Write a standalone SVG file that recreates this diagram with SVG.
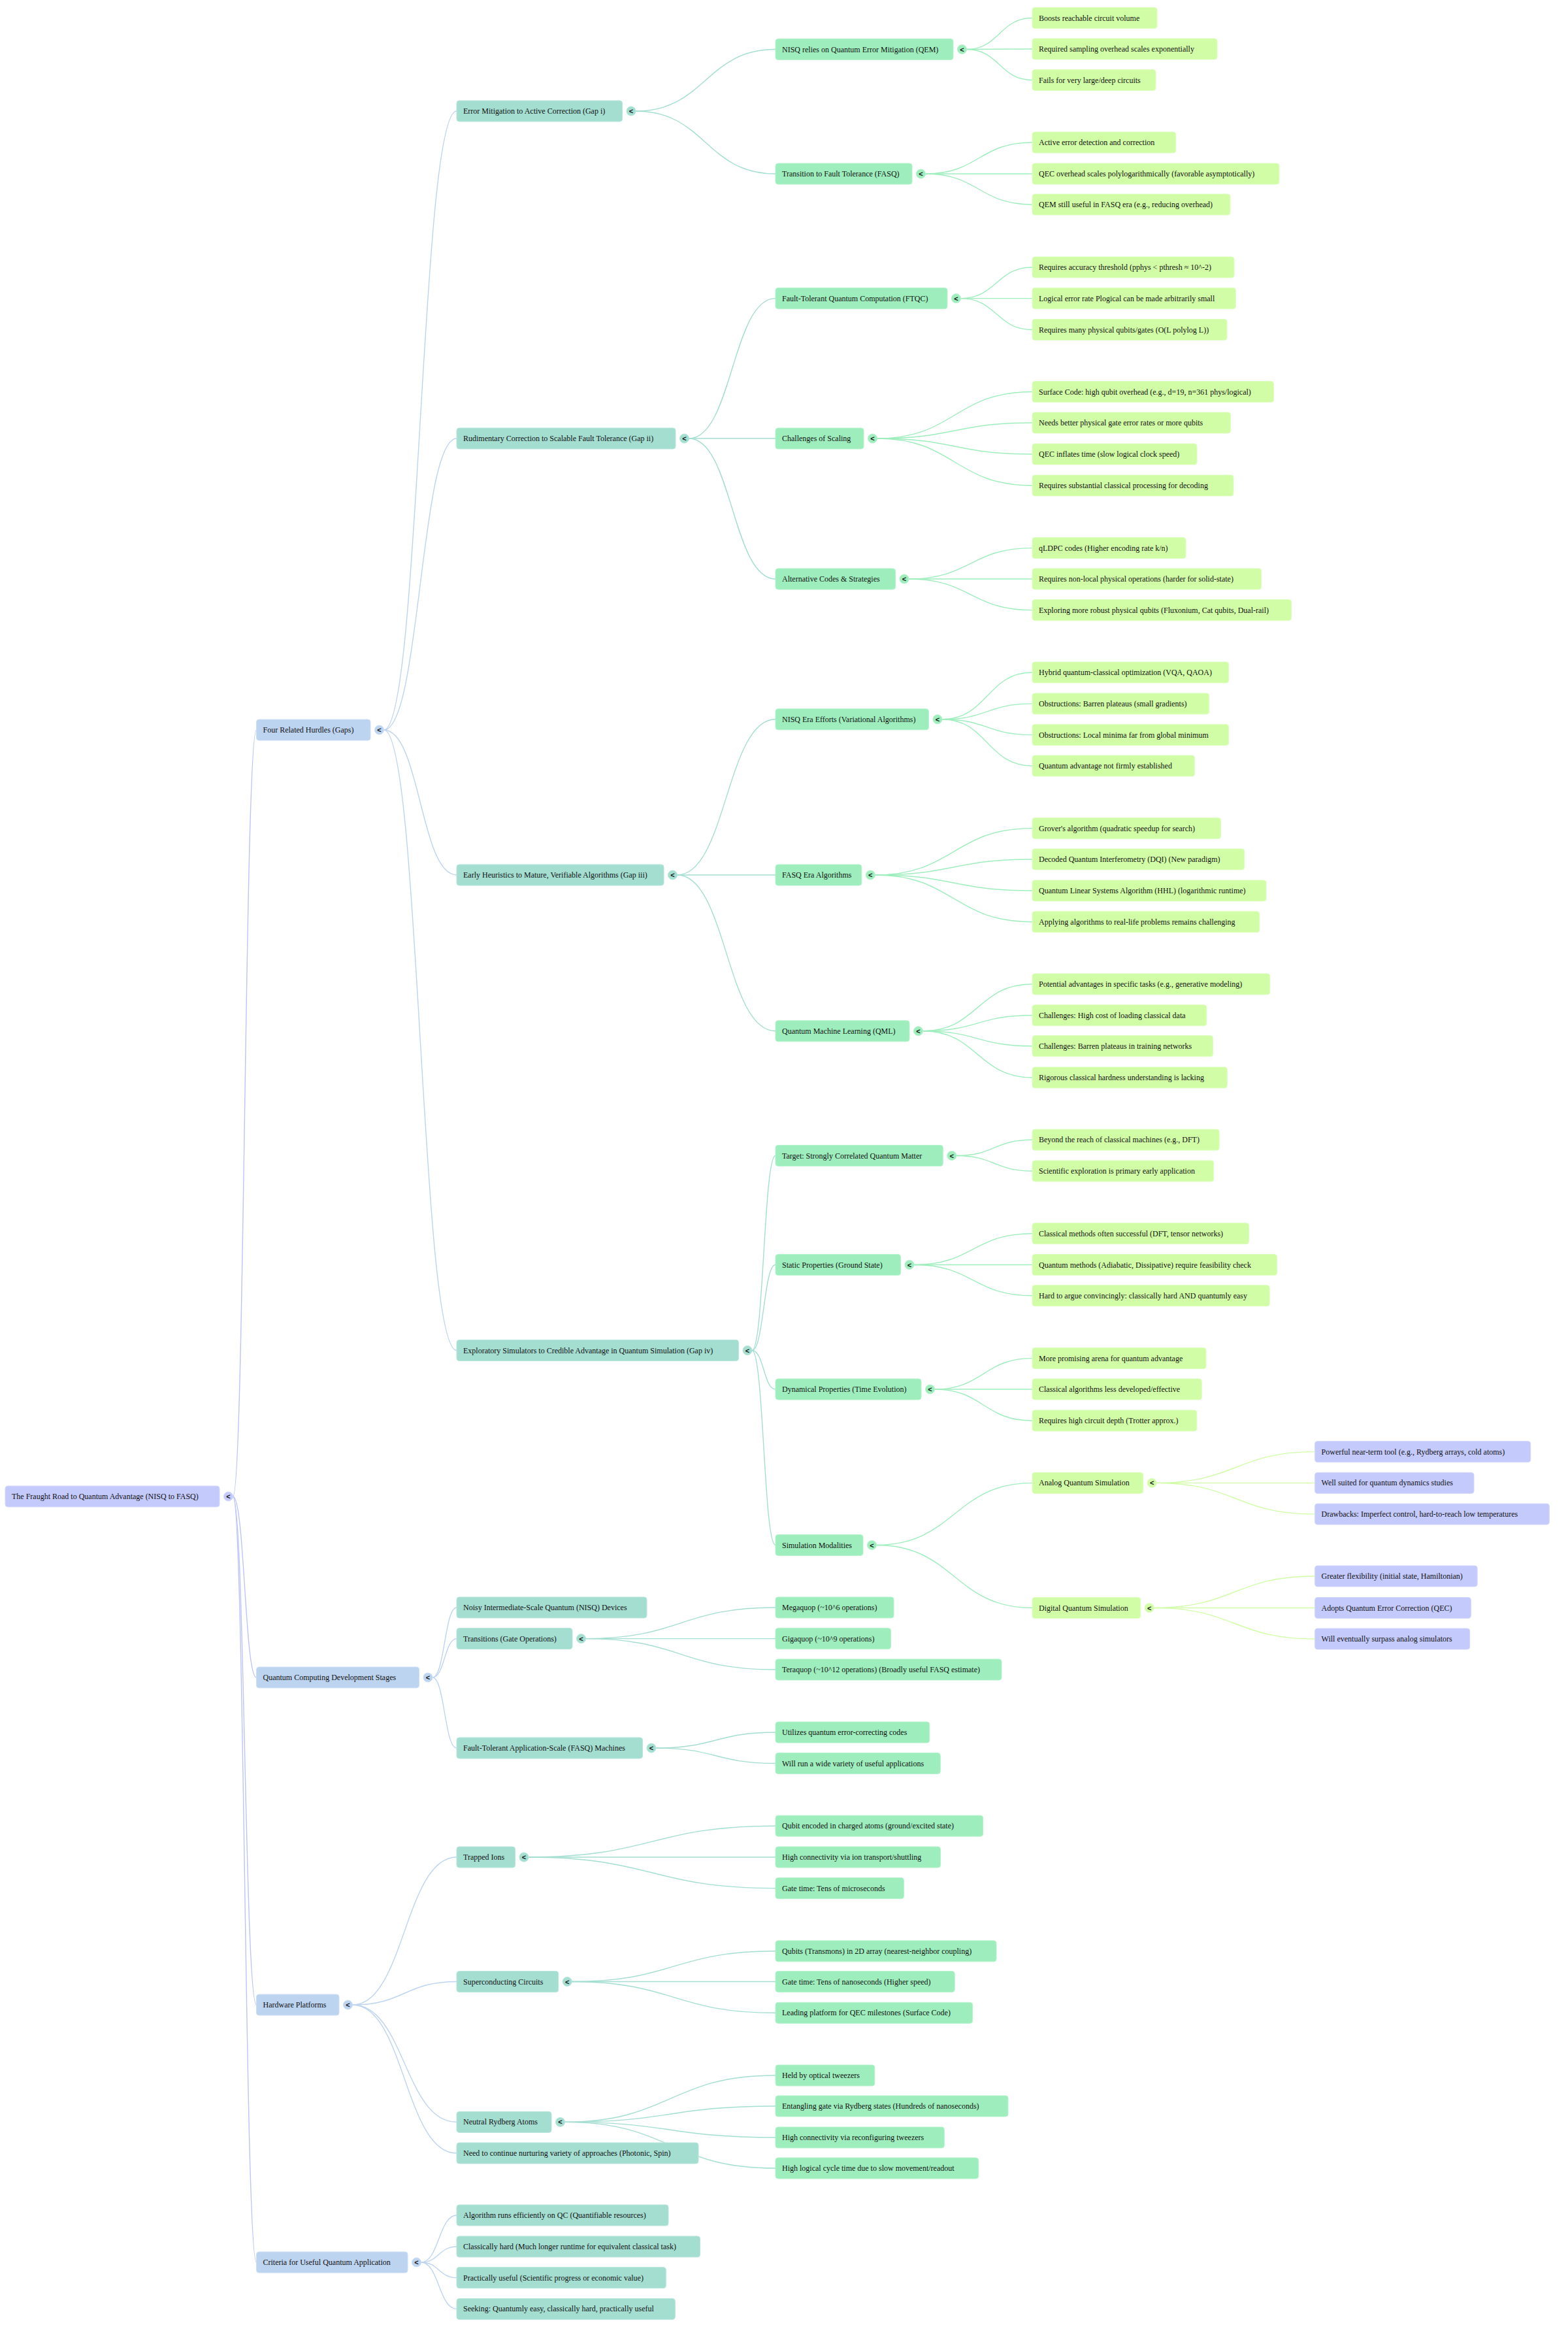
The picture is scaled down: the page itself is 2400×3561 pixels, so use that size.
<svg xmlns="http://www.w3.org/2000/svg" width="2400" height="3561" viewBox="0 0 2400 3561">
<style>
text{font-family:"Liberation Serif","Times New Roman",serif;font-size:12px;fill:#111}
rect{rx:4;ry:4;height:32px;stroke-width:1}
.l0{fill:#c4cafc;stroke:#d3d8fd}
.l1{fill:#bdd4f0;stroke:#cddff4}
.l2{fill:#a4ded1;stroke:#b8e6db}
.l3{fill:#9eeebd;stroke:#b4f3cc}
.l4{fill:#d1fda7;stroke:#ddfebf}
.l5{fill:#c4cafc;stroke:#d3d8fd}
circle{r:7}
.tg{font-family:"Liberation Sans",Arial,sans-serif;font-size:11px;font-weight:bold;text-anchor:middle}
#connectors path{fill:none;stroke-width:1.4}
.e0{stroke:#bcc4f8}.e1{stroke:#bdd4f0}.e2{stroke:#a4ded1}.e3{stroke:#9eeebd}.e4{stroke:#d1fda7}
</style>
<g id="connectors">
<path class="e0" d="M356.5,2290 C374.5,2290 374.5,1117 392.5,1117"/>
<path class="e0" d="M356.5,2290 C374.5,2290 374.5,2567 392.5,2567"/>
<path class="e0" d="M356.5,2290 C374.5,2290 374.5,3068 392.5,3068"/>
<path class="e0" d="M356.5,2290 C374.5,2290 374.5,3462 392.5,3462"/>
<path class="e1" d="M587.5,1117 C643.25,1117 643.25,170 699,170"/>
<path class="e1" d="M587.5,1117 C643.25,1117 643.25,671 699,671"/>
<path class="e1" d="M587.5,1117 C643.25,1117 643.25,1339 699,1339"/>
<path class="e1" d="M587.5,1117 C643.25,1117 643.25,2066.5 699,2066.5"/>
<path class="e1" d="M662,2567 C680.5,2567 680.5,2460 699,2460"/>
<path class="e1" d="M662,2567 C680.5,2567 680.5,2507.6 699,2507.6"/>
<path class="e1" d="M662,2567 C680.5,2567 680.5,2675 699,2675"/>
<path class="e1" d="M539.5,3068 C619.25,3068 619.25,2842 699,2842"/>
<path class="e1" d="M539.5,3068 C619.25,3068 619.25,3032.5 699,3032.5"/>
<path class="e1" d="M539.5,3068 C619.25,3068 619.25,3247.4 699,3247.4"/>
<path class="e1" d="M539.5,3068 C619.25,3068 619.25,3295 699,3295"/>
<path class="e1" d="M644.5,3462 C671.75,3462 671.75,3390 699,3390"/>
<path class="e1" d="M644.5,3462 C671.75,3462 671.75,3438 699,3438"/>
<path class="e1" d="M644.5,3462 C671.75,3462 671.75,3485.6 699,3485.6"/>
<path class="e1" d="M644.5,3462 C671.75,3462 671.75,3533.4 699,3533.4"/>
<path class="e2" d="M973,170 C1080,170 1080,75.5 1187,75.5"/>
<path class="e2" d="M973,170 C1080,170 1080,266 1187,266"/>
<path class="e2" d="M1054.5,671 C1120.75,671 1120.75,456.6 1187,456.6"/>
<path class="e2" d="M1054.5,671 C1120.75,671 1120.75,671 1187,671"/>
<path class="e2" d="M1054.5,671 C1120.75,671 1120.75,886 1187,886"/>
<path class="e2" d="M1036.5,1339 C1111.75,1339 1111.75,1100.8 1187,1100.8"/>
<path class="e2" d="M1036.5,1339 C1111.75,1339 1111.75,1339 1187,1339"/>
<path class="e2" d="M1036.5,1339 C1111.75,1339 1111.75,1577.8 1187,1577.8"/>
<path class="e2" d="M1151,2066.5 C1169,2066.5 1169,1768.5 1187,1768.5"/>
<path class="e2" d="M1151,2066.5 C1169,2066.5 1169,1935.5 1187,1935.5"/>
<path class="e2" d="M1151,2066.5 C1169,2066.5 1169,2126 1187,2126"/>
<path class="e2" d="M1151,2066.5 C1169,2066.5 1169,2364.5 1187,2364.5"/>
<path class="e2" d="M896.5,2507.6 C1041.75,2507.6 1041.75,2460 1187,2460"/>
<path class="e2" d="M896.5,2507.6 C1041.75,2507.6 1041.75,2507.6 1187,2507.6"/>
<path class="e2" d="M896.5,2507.6 C1041.75,2507.6 1041.75,2555 1187,2555"/>
<path class="e2" d="M1004,2675 C1095.5,2675 1095.5,2651 1187,2651"/>
<path class="e2" d="M1004,2675 C1095.5,2675 1095.5,2698.5 1187,2698.5"/>
<path class="e2" d="M809,2842 C998,2842 998,2794.2 1187,2794.2"/>
<path class="e2" d="M809,2842 C998,2842 998,2842 1187,2842"/>
<path class="e2" d="M809,2842 C998,2842 998,2889.6 1187,2889.6"/>
<path class="e2" d="M875.2,3032.5 C1031.1,3032.5 1031.1,2985.8 1187,2985.8"/>
<path class="e2" d="M875.2,3032.5 C1031.1,3032.5 1031.1,3032.5 1187,3032.5"/>
<path class="e2" d="M875.2,3032.5 C1031.1,3032.5 1031.1,3080.3 1187,3080.3"/>
<path class="e2" d="M864.5,3247.4 C1025.75,3247.4 1025.75,3176 1187,3176"/>
<path class="e2" d="M864.5,3247.4 C1025.75,3247.4 1025.75,3223 1187,3223"/>
<path class="e2" d="M864.5,3247.4 C1025.75,3247.4 1025.75,3271 1187,3271"/>
<path class="e2" d="M864.5,3247.4 C1025.75,3247.4 1025.75,3318 1187,3318"/>
<path class="e3" d="M1479.5,75.5 C1529.75,75.5 1529.75,27.5 1580,27.5"/>
<path class="e3" d="M1479.5,75.5 C1529.75,75.5 1529.75,75 1580,75"/>
<path class="e3" d="M1479.5,75.5 C1529.75,75.5 1529.75,122.5 1580,122.5"/>
<path class="e3" d="M1416.5,266 C1498.25,266 1498.25,218 1580,218"/>
<path class="e3" d="M1416.5,266 C1498.25,266 1498.25,266 1580,266"/>
<path class="e3" d="M1416.5,266 C1498.25,266 1498.25,313 1580,313"/>
<path class="e3" d="M1470.5,456.6 C1525.25,456.6 1525.25,409 1580,409"/>
<path class="e3" d="M1470.5,456.6 C1525.25,456.6 1525.25,456.6 1580,456.6"/>
<path class="e3" d="M1470.5,456.6 C1525.25,456.6 1525.25,504.5 1580,504.5"/>
<path class="e3" d="M1342.5,671 C1461.25,671 1461.25,599.5 1580,599.5"/>
<path class="e3" d="M1342.5,671 C1461.25,671 1461.25,647 1580,647"/>
<path class="e3" d="M1342.5,671 C1461.25,671 1461.25,695 1580,695"/>
<path class="e3" d="M1342.5,671 C1461.25,671 1461.25,743 1580,743"/>
<path class="e3" d="M1391,886 C1485.5,886 1485.5,838.6 1580,838.6"/>
<path class="e3" d="M1391,886 C1485.5,886 1485.5,886 1580,886"/>
<path class="e3" d="M1391,886 C1485.5,886 1485.5,933.6 1580,933.6"/>
<path class="e3" d="M1442,1100.8 C1511,1100.8 1511,1029 1580,1029"/>
<path class="e3" d="M1442,1100.8 C1511,1100.8 1511,1076.9 1580,1076.9"/>
<path class="e3" d="M1442,1100.8 C1511,1100.8 1511,1124.6 1580,1124.6"/>
<path class="e3" d="M1442,1100.8 C1511,1100.8 1511,1172 1580,1172"/>
<path class="e3" d="M1339.3,1339 C1459.65,1339 1459.65,1267.6 1580,1267.6"/>
<path class="e3" d="M1339.3,1339 C1459.65,1339 1459.65,1315 1580,1315"/>
<path class="e3" d="M1339.3,1339 C1459.65,1339 1459.65,1363 1580,1363"/>
<path class="e3" d="M1339.3,1339 C1459.65,1339 1459.65,1410.8 1580,1410.8"/>
<path class="e3" d="M1412.5,1577.8 C1496.25,1577.8 1496.25,1506 1580,1506"/>
<path class="e3" d="M1412.5,1577.8 C1496.25,1577.8 1496.25,1553.8 1580,1553.8"/>
<path class="e3" d="M1412.5,1577.8 C1496.25,1577.8 1496.25,1600.8 1580,1600.8"/>
<path class="e3" d="M1412.5,1577.8 C1496.25,1577.8 1496.25,1649 1580,1649"/>
<path class="e3" d="M1463.8,1768.5 C1521.9,1768.5 1521.9,1744.2 1580,1744.2"/>
<path class="e3" d="M1463.8,1768.5 C1521.9,1768.5 1521.9,1792 1580,1792"/>
<path class="e3" d="M1399,1935.5 C1489.5,1935.5 1489.5,1887.7 1580,1887.7"/>
<path class="e3" d="M1399,1935.5 C1489.5,1935.5 1489.5,1935.5 1580,1935.5"/>
<path class="e3" d="M1399,1935.5 C1489.5,1935.5 1489.5,1982.8 1580,1982.8"/>
<path class="e3" d="M1430.5,2126 C1505.25,2126 1505.25,2078.6 1580,2078.6"/>
<path class="e3" d="M1430.5,2126 C1505.25,2126 1505.25,2126 1580,2126"/>
<path class="e3" d="M1430.5,2126 C1505.25,2126 1505.25,2174 1580,2174"/>
<path class="e3" d="M1341.5,2364.5 C1460.75,2364.5 1460.75,2269.4 1580,2269.4"/>
<path class="e3" d="M1341.5,2364.5 C1460.75,2364.5 1460.75,2460.5 1580,2460.5"/>
<path class="e4" d="M1770.2,2269.4 C1891.4,2269.4 1891.4,2221.6 2012.6,2221.6"/>
<path class="e4" d="M1770.2,2269.4 C1891.4,2269.4 1891.4,2269.4 2012.6,2269.4"/>
<path class="e4" d="M1770.2,2269.4 C1891.4,2269.4 1891.4,2317.1 2012.6,2317.1"/>
<path class="e4" d="M1766.2,2460.5 C1889.4,2460.5 1889.4,2412 2012.6,2412"/>
<path class="e4" d="M1766.2,2460.5 C1889.4,2460.5 1889.4,2460.5 2012.6,2460.5"/>
<path class="e4" d="M1766.2,2460.5 C1889.4,2460.5 1889.4,2508 2012.6,2508"/>
</g>

<g id="n-root"><rect class="l0" x="8" y="2274" width="328"/><text x="18" y="2294">The Fraught Road to Quantum Advantage (NISQ to FASQ)</text><circle class="l0" cx="349.5" cy="2290"/><text class="tg" x="349.5" y="2294">&lt;</text></g>

<g id="n-hurdles"><rect class="l1" x="392.5" y="1101" width="174.5"/><text x="402.5" y="1121">Four Related Hurdles (Gaps)</text><circle class="l1" cx="580.5" cy="1117"/><text class="tg" x="580.5" y="1121">&lt;</text></g>
<g id="n-stages"><rect class="l1" x="392.5" y="2551" width="249"/><text x="402.5" y="2571">Quantum Computing Development Stages</text><circle class="l1" cx="655" cy="2567"/><text class="tg" x="655" y="2571">&lt;</text></g>
<g id="n-hardware"><rect class="l1" x="392.5" y="3052" width="126.5"/><text x="402.5" y="3072">Hardware Platforms</text><circle class="l1" cx="532.5" cy="3068"/><text class="tg" x="532.5" y="3072">&lt;</text></g>
<g id="n-criteria"><rect class="l1" x="392.5" y="3446" width="231.5"/><text x="402.5" y="3466">Criteria for Useful Quantum Application</text><circle class="l1" cx="637.5" cy="3462"/><text class="tg" x="637.5" y="3466">&lt;</text></g>

<g id="n-gap1"><rect class="l2" x="699" y="154" width="253.5"/><text x="709" y="174">Error Mitigation to Active Correction (Gap i)</text><circle class="l2" cx="966" cy="170"/><text class="tg" x="966" y="174">&lt;</text></g>
<g id="n-gap2"><rect class="l2" x="699" y="655" width="335"/><text x="709" y="675">Rudimentary Correction to Scalable Fault Tolerance (Gap ii)</text><circle class="l2" cx="1047.5" cy="671"/><text class="tg" x="1047.5" y="675">&lt;</text></g>
<g id="n-gap3"><rect class="l2" x="699" y="1323" width="317"/><text x="709" y="1343">Early Heuristics to Mature, Verifiable Algorithms (Gap iii)</text><circle class="l2" cx="1029.5" cy="1339"/><text class="tg" x="1029.5" y="1343">&lt;</text></g>
<g id="n-gap4"><rect class="l2" x="699" y="2050.5" width="431.5"/><text x="709" y="2070.5">Exploratory Simulators to Credible Advantage in Quantum Simulation (Gap iv)</text><circle class="l2" cx="1144" cy="2066.5"/><text class="tg" x="1144" y="2070.5">&lt;</text></g>
<g id="n-nisqdev"><rect class="l2" x="699" y="2444" width="291"/><text x="709" y="2464">Noisy Intermediate-Scale Quantum (NISQ) Devices</text></g>
<g id="n-transitions"><rect class="l2" x="699" y="2491.6" width="177"/><text x="709" y="2511.6">Transitions (Gate Operations)</text><circle class="l2" cx="889.5" cy="2507.6"/><text class="tg" x="889.5" y="2511.6">&lt;</text></g>
<g id="n-fasqmach"><rect class="l2" x="699" y="2659" width="284.5"/><text x="709" y="2679">Fault-Tolerant Application-Scale (FASQ) Machines</text><circle class="l2" cx="997" cy="2675"/><text class="tg" x="997" y="2679">&lt;</text></g>
<g id="n-ions"><rect class="l2" x="699" y="2826" width="89.5"/><text x="709" y="2846">Trapped Ions</text><circle class="l2" cx="802" cy="2842"/><text class="tg" x="802" y="2846">&lt;</text></g>
<g id="n-sc"><rect class="l2" x="699" y="3016.5" width="155.7"/><text x="709" y="3036.5">Superconducting Circuits</text><circle class="l2" cx="868.2" cy="3032.5"/><text class="tg" x="868.2" y="3036.5">&lt;</text></g>
<g id="n-rydberg"><rect class="l2" x="699" y="3231.4" width="145"/><text x="709" y="3251.4">Neutral Rydberg Atoms</text><circle class="l2" cx="857.5" cy="3247.4"/><text class="tg" x="857.5" y="3251.4">&lt;</text></g>
<g id="n-nurture"><rect class="l2" x="699" y="3279" width="370"/><text x="709" y="3299">Need to continue nurturing variety of approaches (Photonic, Spin)</text></g>
<g id="n-crit1"><rect class="l2" x="699" y="3374" width="324"/><text x="709" y="3394">Algorithm runs efficiently on QC (Quantifiable resources)</text></g>
<g id="n-crit2"><rect class="l2" x="699" y="3422" width="372.5"/><text x="709" y="3442">Classically hard (Much longer runtime for equivalent classical task)</text></g>
<g id="n-crit3"><rect class="l2" x="699" y="3469.6" width="320.3"/><text x="709" y="3489.6">Practically useful (Scientific progress or economic value)</text></g>
<g id="n-crit4"><rect class="l2" x="699" y="3517.4" width="334.3"/><text x="709" y="3537.4">Seeking: Quantumly easy, classically hard, practically useful</text></g>

<g id="n-qem"><rect class="l3" x="1187" y="59.5" width="272"/><text x="1197" y="79.5">NISQ relies on Quantum Error Mitigation (QEM)</text><circle class="l3" cx="1472.5" cy="75.5"/><text class="tg" x="1472.5" y="79.5">&lt;</text></g>
<g id="n-transft"><rect class="l3" x="1187" y="250" width="209"/><text x="1197" y="270">Transition to Fault Tolerance (FASQ)</text><circle class="l3" cx="1409.5" cy="266"/><text class="tg" x="1409.5" y="270">&lt;</text></g>
<g id="n-ftqc"><rect class="l3" x="1187" y="440.6" width="263"/><text x="1197" y="460.6">Fault-Tolerant Quantum Computation (FTQC)</text><circle class="l3" cx="1463.5" cy="456.6"/><text class="tg" x="1463.5" y="460.6">&lt;</text></g>
<g id="n-scaling"><rect class="l3" x="1187" y="655" width="135"/><text x="1197" y="675">Challenges of Scaling</text><circle class="l3" cx="1335.5" cy="671"/><text class="tg" x="1335.5" y="675">&lt;</text></g>
<g id="n-altcodes"><rect class="l3" x="1187" y="870" width="183.5"/><text x="1197" y="890">Alternative Codes &amp; Strategies</text><circle class="l3" cx="1384" cy="886"/><text class="tg" x="1384" y="890">&lt;</text></g>
<g id="n-nisqera"><rect class="l3" x="1187" y="1084.8" width="234.5"/><text x="1197" y="1104.8">NISQ Era Efforts (Variational Algorithms)</text><circle class="l3" cx="1435" cy="1100.8"/><text class="tg" x="1435" y="1104.8">&lt;</text></g>
<g id="n-fasqera"><rect class="l3" x="1187" y="1323" width="131.8"/><text x="1197" y="1343">FASQ Era Algorithms</text><circle class="l3" cx="1332.3" cy="1339"/><text class="tg" x="1332.3" y="1343">&lt;</text></g>
<g id="n-qml"><rect class="l3" x="1187" y="1561.8" width="205"/><text x="1197" y="1581.8">Quantum Machine Learning (QML)</text><circle class="l3" cx="1405.5" cy="1577.8"/><text class="tg" x="1405.5" y="1581.8">&lt;</text></g>
<g id="n-target"><rect class="l3" x="1187" y="1752.5" width="256.3"/><text x="1197" y="1772.5">Target: Strongly Correlated Quantum Matter</text><circle class="l3" cx="1456.8" cy="1768.5"/><text class="tg" x="1456.8" y="1772.5">&lt;</text></g>
<g id="n-static"><rect class="l3" x="1187" y="1919.5" width="191.5"/><text x="1197" y="1939.5">Static Properties (Ground State)</text><circle class="l3" cx="1392" cy="1935.5"/><text class="tg" x="1392" y="1939.5">&lt;</text></g>
<g id="n-dynamic"><rect class="l3" x="1187" y="2110" width="223"/><text x="1197" y="2130">Dynamical Properties (Time Evolution)</text><circle class="l3" cx="1423.5" cy="2126"/><text class="tg" x="1423.5" y="2130">&lt;</text></g>
<g id="n-simmod"><rect class="l3" x="1187" y="2348.5" width="134"/><text x="1197" y="2368.5">Simulation Modalities</text><circle class="l3" cx="1334.5" cy="2364.5"/><text class="tg" x="1334.5" y="2368.5">&lt;</text></g>
<g id="n-mega"><rect class="l3" x="1187" y="2444" width="181"/><text x="1197" y="2464">Megaquop (~10^6 operations)</text></g>
<g id="n-giga"><rect class="l3" x="1187" y="2491.6" width="176.5"/><text x="1197" y="2511.6">Gigaquop (~10^9 operations)</text></g>
<g id="n-tera"><rect class="l3" x="1187" y="2539" width="346"/><text x="1197" y="2559">Teraquop (~10^12 operations) (Broadly useful FASQ estimate)</text></g>
<g id="n-utilizes"><rect class="l3" x="1187" y="2635" width="235.7"/><text x="1197" y="2655">Utilizes quantum error-correcting codes</text></g>
<g id="n-willrun"><rect class="l3" x="1187" y="2682.5" width="252.3"/><text x="1197" y="2702.5">Will run a wide variety of useful applications</text></g>
<g id="n-ion1"><rect class="l3" x="1187" y="2778.2" width="317.6"/><text x="1197" y="2798.2">Qubit encoded in charged atoms (ground/excited state)</text></g>
<g id="n-ion2"><rect class="l3" x="1187" y="2826" width="252.5"/><text x="1197" y="2846">High connectivity via ion transport/shuttling</text></g>
<g id="n-ion3"><rect class="l3" x="1187" y="2873.6" width="196.4"/><text x="1197" y="2893.6">Gate time: Tens of microseconds</text></g>
<g id="n-sc1"><rect class="l3" x="1187" y="2969.8" width="338"/><text x="1197" y="2989.8">Qubits (Transmons) in 2D array (nearest-neighbor coupling)</text></g>
<g id="n-sc2"><rect class="l3" x="1187" y="3016.5" width="274.2"/><text x="1197" y="3036.5">Gate time: Tens of nanoseconds (Higher speed)</text></g>
<g id="n-sc3"><rect class="l3" x="1187" y="3064.3" width="301.6"/><text x="1197" y="3084.3">Leading platform for QEC milestones (Surface Code)</text></g>
<g id="n-ry1"><rect class="l3" x="1187" y="3160" width="151.8"/><text x="1197" y="3180">Held by optical tweezers</text></g>
<g id="n-ry2"><rect class="l3" x="1187" y="3207" width="356"/><text x="1197" y="3227">Entangling gate via Rydberg states (Hundreds of nanoseconds)</text></g>
<g id="n-ry3"><rect class="l3" x="1187" y="3255" width="258.3"/><text x="1197" y="3275">High connectivity via reconfiguring tweezers</text></g>
<g id="n-ry4"><rect class="l3" x="1187" y="3302" width="310.6"/><text x="1197" y="3322">High logical cycle time due to slow movement/readout</text></g>

<g id="n-l4-1"><rect class="l4" x="1580" y="11.5" width="191"/><text x="1590" y="31.5">Boosts reachable circuit volume</text></g>
<g id="n-l4-2"><rect class="l4" x="1580" y="59" width="283"/><text x="1590" y="79">Required sampling overhead scales exponentially</text></g>
<g id="n-l4-3"><rect class="l4" x="1580" y="106.5" width="189"/><text x="1590" y="126.5">Fails for very large/deep circuits</text></g>
<g id="n-l4-4"><rect class="l4" x="1580" y="202" width="219.7"/><text x="1590" y="222">Active error detection and correction</text></g>
<g id="n-l4-5"><rect class="l4" x="1580" y="250" width="378"/><text x="1590" y="270">QEC overhead scales polylogarithmically (favorable asymptotically)</text></g>
<g id="n-l4-6"><rect class="l4" x="1580" y="297" width="303"/><text x="1590" y="317">QEM still useful in FASQ era (e.g., reducing overhead)</text></g>
<g id="n-l4-7"><rect class="l4" x="1580" y="393" width="309"/><text x="1590" y="413">Requires accuracy threshold (pphys &lt; pthresh ≈ 10^-2)</text></g>
<g id="n-l4-8"><rect class="l4" x="1580" y="440.6" width="311.5"/><text x="1590" y="460.6">Logical error rate Plogical can be made arbitrarily small</text></g>
<g id="n-l4-9"><rect class="l4" x="1580" y="488.5" width="298"/><text x="1590" y="508.5">Requires many physical qubits/gates (O(L polylog L))</text></g>
<g id="n-l4-10"><rect class="l4" x="1580" y="583.5" width="369.5"/><text x="1590" y="603.5">Surface Code: high qubit overhead (e.g., d=19, n=361 phys/logical)</text></g>
<g id="n-l4-11"><rect class="l4" x="1580" y="631" width="303.5"/><text x="1590" y="651">Needs better physical gate error rates or more qubits</text></g>
<g id="n-l4-12"><rect class="l4" x="1580" y="679" width="252"/><text x="1590" y="699">QEC inflates time (slow logical clock speed)</text></g>
<g id="n-l4-13"><rect class="l4" x="1580" y="727" width="308"/><text x="1590" y="747">Requires substantial classical processing for decoding</text></g>
<g id="n-l4-14"><rect class="l4" x="1580" y="822.6" width="235"/><text x="1590" y="842.6">qLDPC codes (Higher encoding rate k/n)</text></g>
<g id="n-l4-15"><rect class="l4" x="1580" y="870" width="350.5"/><text x="1590" y="890">Requires non-local physical operations (harder for solid-state)</text></g>
<g id="n-l4-16"><rect class="l4" x="1580" y="917.6" width="396.5"/><text x="1590" y="937.6">Exploring more robust physical qubits (Fluxonium, Cat qubits, Dual-rail)</text></g>
<g id="n-l4-17"><rect class="l4" x="1580" y="1013" width="300.6"/><text x="1590" y="1033">Hybrid quantum-classical optimization (VQA, QAOA)</text></g>
<g id="n-l4-18"><rect class="l4" x="1580" y="1060.9" width="270.7"/><text x="1590" y="1080.9">Obstructions: Barren plateaus (small gradients)</text></g>
<g id="n-l4-19"><rect class="l4" x="1580" y="1108.6" width="300.6"/><text x="1590" y="1128.6">Obstructions: Local minima far from global minimum</text></g>
<g id="n-l4-20"><rect class="l4" x="1580" y="1156" width="248.4"/><text x="1590" y="1176">Quantum advantage not firmly established</text></g>
<g id="n-l4-21"><rect class="l4" x="1580" y="1251.6" width="288.5"/><text x="1590" y="1271.6">Grover's algorithm (quadratic speedup for search)</text></g>
<g id="n-l4-22"><rect class="l4" x="1580" y="1299" width="324.7"/><text x="1590" y="1319">Decoded Quantum Interferometry (DQI) (New paradigm)</text></g>
<g id="n-l4-23"><rect class="l4" x="1580" y="1347" width="358"/><text x="1590" y="1367">Quantum Linear Systems Algorithm (HHL) (logarithmic runtime)</text></g>
<g id="n-l4-24"><rect class="l4" x="1580" y="1394.8" width="347.7"/><text x="1590" y="1414.8">Applying algorithms to real-life problems remains challenging</text></g>
<g id="n-l4-25"><rect class="l4" x="1580" y="1490" width="363.7"/><text x="1590" y="1510">Potential advantages in specific tasks (e.g., generative modeling)</text></g>
<g id="n-l4-26"><rect class="l4" x="1580" y="1537.8" width="266.7"/><text x="1590" y="1557.8">Challenges: High cost of loading classical data</text></g>
<g id="n-l4-27"><rect class="l4" x="1580" y="1584.8" width="276.5"/><text x="1590" y="1604.8">Challenges: Barren plateaus in training networks</text></g>
<g id="n-l4-28"><rect class="l4" x="1580" y="1633" width="298.3"/><text x="1590" y="1653">Rigorous classical hardness understanding is lacking</text></g>
<g id="n-l4-29"><rect class="l4" x="1580" y="1728.2" width="286.2"/><text x="1590" y="1748.2">Beyond the reach of classical machines (e.g., DFT)</text></g>
<g id="n-l4-30"><rect class="l4" x="1580" y="1776" width="277.6"/><text x="1590" y="1796">Scientific exploration is primary early application</text></g>
<g id="n-l4-31"><rect class="l4" x="1580" y="1871.7" width="331.6"/><text x="1590" y="1891.7">Classical methods often successful (DFT, tensor networks)</text></g>
<g id="n-l4-32"><rect class="l4" x="1580" y="1919.5" width="374.6"/><text x="1590" y="1939.5">Quantum methods (Adiabatic, Dissipative) require feasibility check</text></g>
<g id="n-l4-33"><rect class="l4" x="1580" y="1966.8" width="363.2"/><text x="1590" y="1986.8">Hard to argue convincingly: classically hard AND quantumly easy</text></g>
<g id="n-l4-34"><rect class="l4" x="1580" y="2062.6" width="266"/><text x="1590" y="2082.6">More promising arena for quantum advantage</text></g>
<g id="n-l4-35"><rect class="l4" x="1580" y="2110" width="259.3"/><text x="1590" y="2130">Classical algorithms less developed/effective</text></g>
<g id="n-l4-36"><rect class="l4" x="1580" y="2158" width="251.8"/><text x="1590" y="2178">Requires high circuit depth (Trotter approx.)</text></g>
<g id="n-analog"><rect class="l4" x="1580" y="2253.4" width="169.7"/><text x="1590" y="2273.4">Analog Quantum Simulation</text><circle class="l4" cx="1763.2" cy="2269.4"/><text class="tg" x="1763.2" y="2273.4">&lt;</text></g>
<g id="n-digital"><rect class="l4" x="1580" y="2444.5" width="165.7"/><text x="1590" y="2464.5">Digital Quantum Simulation</text><circle class="l4" cx="1759.2" cy="2460.5"/><text class="tg" x="1759.2" y="2464.5">&lt;</text></g>

<g id="n-l5-1"><rect class="l5" x="2012.6" y="2205.6" width="330.1"/><text x="2022.6" y="2225.6">Powerful near-term tool (e.g., Rydberg arrays, cold atoms)</text></g>
<g id="n-l5-2"><rect class="l5" x="2012.6" y="2253.4" width="243.4"/><text x="2022.6" y="2273.4">Well suited for quantum dynamics studies</text></g>
<g id="n-l5-3"><rect class="l5" x="2012.6" y="2301.1" width="358.8"/><text x="2022.6" y="2321.1">Drawbacks: Imperfect control, hard-to-reach low temperatures</text></g>
<g id="n-l5-4"><rect class="l5" x="2012.6" y="2396" width="248.6"/><text x="2022.6" y="2416">Greater flexibility (initial state, Hamiltonian)</text></g>
<g id="n-l5-5"><rect class="l5" x="2012.6" y="2444.5" width="238.8"/><text x="2022.6" y="2464.5">Adopts Quantum Error Correction (QEC)</text></g>
<g id="n-l5-6"><rect class="l5" x="2012.6" y="2492" width="237.1"/><text x="2022.6" y="2512">Will eventually surpass analog simulators</text></g>
</svg>
